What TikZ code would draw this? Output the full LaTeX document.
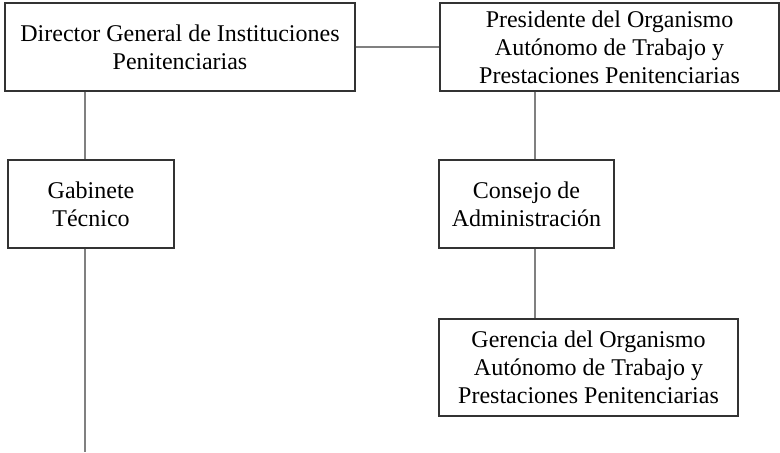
\documentclass[tikz,border=0pt]{standalone}
\usepackage{fontspec}
\setmainfont{Liberation Serif}
\tikzset{
    box/.style={draw=black!80, line width=0.6pt, align=center, inner sep=0pt,
        font=\fontsize{12}{14}\selectfont, text=black},
    link/.style={draw=black!50, line width=0.8pt}
}
\begin{document}
\begin{tikzpicture}[x=0.5pt, y=-0.5pt]
    \useasboundingbox (0,0) rectangle (780,452);
    % left column
    \node[box, minimum width=175pt, minimum height=44pt] (dg) at (180,47)
        {Director General de Instituciones\\ Penitenciarias};
    \node[box, minimum width=83pt, minimum height=44pt] (gab) at (91,204)
        {Gabinete\\ T\'ecnico};
    \coordinate (lx) at (85,0); \coordinate (lend) at (85,452);
    % right column
    \node[box, minimum width=169.5pt, minimum height=44pt] (pres) at (609.5,47)
        {Presidente del Organismo\\ Aut\'onomo de Trabajo y\\ Prestaciones Penitenciarias};
    \node[box, minimum width=87.5pt, minimum height=44pt] (cons) at (526.5,204)
        {Consejo de\\ Administraci\'on};
    \node[box, minimum width=149.5pt, minimum height=48.5pt] (ger) at (588.5,367.5)
        {Gerencia del Organismo\\ Aut\'onomo de Trabajo y\\ Prestaciones Penitenciarias};
    \coordinate (rx) at (535,0);
    % connectors
    \draw[link] (dg.east) -- (pres.west);
    \draw[link] (dg.south -| lx) -- (gab.north -| lx);
    \draw[link] (gab.south -| lx) -- (lend);
    \draw[link] (pres.south -| rx) -- (cons.north -| rx);
    \draw[link] (cons.south -| rx) -- (ger.north -| rx);
\end{tikzpicture}
\end{document}
